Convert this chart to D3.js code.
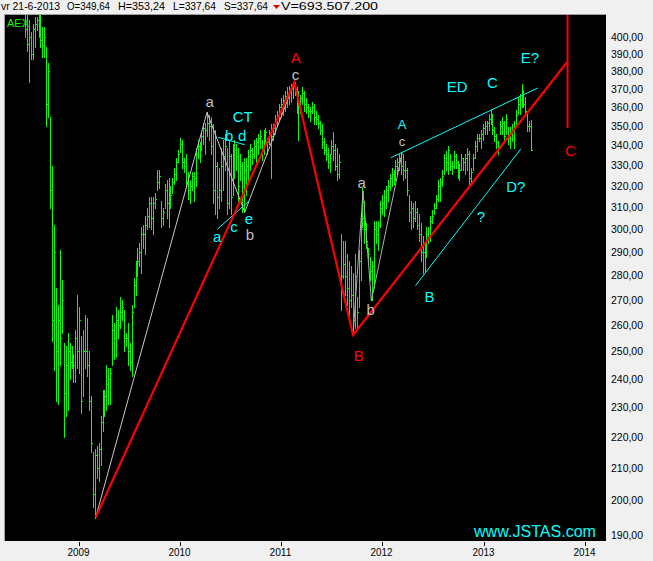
<!DOCTYPE html>
<html><head><meta charset="utf-8">
<script src="https://cdn.jsdelivr.net/npm/d3@7"></script>
<style>html,body{margin:0;padding:0;background:#f0f0f0;} svg{display:block;font-family:Arial,"Liberation Sans",sans-serif;}</style>
</head><body>
<svg id="c" width="653" height="561"></svg>
<script>
// ---- data (weekly AEX bars, first week ending 2008-06-20) ----
const firstWeek = "2008-06-20";
const highs = [414,414,410,403,408,412,412,414,414,406,406,394,385,355,330,302,275,268,291,278,
253,252,257,253,252,249,258,272,267,256,258,264,263,250,234,215,216,217,218,227,
236,236,245,244,244,264,261,267,266,271,270,266,257,261,253,268,279,286,292,294,
301,302,306,310,315,315,315,317,328,328,313,310,321,323,324,320,324,329,334,338,
344,343,334,336,327,323,327,327,339,343,342,347,352,352,357.5,356,355,351,348,332,
329,339,343,346,339,343,336,341,343,341,339,336,332,334,334,338,341,339,343,344,
346,348,343,348,349,344,348,351,351,356,358,362,365,367,369,371,372,373,374,374,
371,369,367,371,369,365,362,360,363,362,358,356,353,351,344,341,339,336,343,347,
341,339,336,298,295,295,289,286,284,281,289,271,291,307,319,313,303,292,288,286,
304,304,304,313,316,318,320,323,326,329,328,333,334,336,337,336,332.5,329,316,313,
312,313,310,307,303,297,295,301,301,306,309,312,316,323,324,328,336,337.5,340,336,
332.5,337.5,336,332.5,331,336,334,336,339,337.5,329,336,342.6,346,346,348,351,353,353,356.6,
358.4,356.6,349.6,346,342.6,353,354.8,353,356.6,349.6,349.6,351,353,358.4,365.5,367.4,372.9,369.3,365.5,356.6,
353,353.24];
const lows = [400,392,374,387,387,394,404,400,394,388,388,350,355,310,254,243,232,231,245,257,
220,227,229,240,244,239,239,244,242,228,234,244,241,229,215,198,195,207,206,211,
222,227,229,231,231,245,247,248,255,259,262,250,252,245,243,241,267,272,280,284,
281,292,289,300,301,300,298,310,318,319,301,302,310,305,301,310,317,321,323,332,
337,329,327,320,314,312,318,313,320,334,332,338,341,336,345,343,336,312,307,305,
310,313,318,328,307,310,307,316,324,328,313,323,308,308,316,321,328,331,334,331,
336,339,333,336,341,336,341,324,343,346,350,353,355,356,358,360,362,363,365,367,
357,343,357,362,358,357,355,353,357,351,351,349,346,339,336,333,329,327,336,333,
328,323,324,266,279,272,268,264,267,257,259,259,267,278,301,294,292,287,278,270,
275,294,291,301,307,306,310,313,318,320,321,323,326,328,326,323,324,316,304,300,
301,304,300,295,286,281,282,288,294,295,303,307,310,313,313,320,326,328,326,328,
326,329,329,324,323,328,328,326,328,321,321,328,334,337.5,342.6,339,343,346,346,348,
351,346,342.6,339,336,346,346,342.6,346,341,339,342.6,339,351,356.6,356.6,360,360,356.6,347.8,
347.8,337.64];
const closes = [405,396,400,390,405,408,410,412,398,395,400,362,380,318,262,290,250,262,255,270,
235,245,250,246,248,245,255,250,262,232,250,250,245,232,218,202,214,210,216,225,
230,234,238,240,242,258,255,262,260,265,267,255,255,250,246,265,276,284,286,290,
298,298,302,306,312,305,312,314,322,325,305,308,318,312,320,316,322,326,332,336,
341,332,330,322,318,320,325,324,336,340,338,345,349,348,352,350,340,318,330,315,
318,330,335,340,312,335,315,332,338,335,320,330,315,328,330,335,338,336,340,342,
344,345,340,346,347,342,346,345,349,354,356,360,362,364,366,368,369,370,372,370,
360,362,365,368,362,360,358,358,360,355,354,352,348,342,338,336,332,334,340,338,
330,326,332,280,285,280,275,270,272,262,280,265,286,300,305,300,295,289,282,284,
300,298,302,310,312,315,318,320,324,326,325,330,332,334,330,328,328,318,308,310,
305,308,302,298,290,290,292,298,297,304,306,310,314,320,322,325,334,332,338,330,
330,335,332,326,328,334,332,334,336,324,327,334,340,344,344,346,349,350,352,354,
352,348,345,342,340,350,352,345,354,344,346,348,350,356,362,364,368,362,358,350,
350,337.64];
const yTicks = [190,200,210,220,230,240,250,260,270,280,290,300,310,320,330,340,350,360,370,380,390,400];
const yearTicks = [2009,2010,2011,2012,2013,2014];
// wave annotations (date, index level)
const redWave = [["2009-03-02",195],["2011-02-17",373.8],["2011-09-17",256.2],["2013-10-28",385.2]];
const redVertical = [["2013-10-30",425],["2013-10-30",349.2]];
const grayWave1 = [["2009-03-02",195],["2010-04-08",357.4],["2010-08-22",307.8],["2011-02-17",373.8]];
const grayWave2 = [["2011-09-17",256.2],["2011-10-23",317.8],["2011-11-22",269.6],["2012-03-13",337.0]];
const cyanLines = [
  [["2012-02-01",334.0],["2013-07-14",370.6]],
  [["2012-04-29",275.8],["2013-05-14",338.3]],
  [["2010-05-18",344.3],["2010-08-22",340.5]],
  [["2010-05-15",300.1],["2010-09-07",313.1]]
];
// [text, colour, date, level, font size]
const waveLabels = [
  ["A","red","2011-02-22",388.0,15],["c","gray","2011-02-21",377.6,15],
  ["B","red","2011-10-08",248.4,15],["C","red","2013-11-09",337.3,15],
  ["a","gray","2010-04-18",362.4,15],["CT","cyan","2010-08-15",354.9,15],
  ["b","cyan","2010-06-27",344.5,15],["d","cyan","2010-08-13",344.5,15],
  ["a","cyan","2010-05-15",296.2,15],["c","cyan","2010-07-14",300.6,15],
  ["e","cyan","2010-09-06",304.3,15],["b","gray","2010-09-10",297.1,15],
  ["a","gray","2011-10-18",321.0,15],["b","gray","2011-11-20",265.5,15],
  ["A","cyan","2012-03-12",351.0,13],["c","gray","2012-03-12",341.8,13],
  ["ED","cyan","2012-09-27",371.2,15],["C","cyan","2013-02-01",373.4,15],
  ["E?","cyan","2013-06-16",388.0,15],["D?","cyan","2013-04-26",320.0,15],
  ["?","cyan","2012-12-21",305.6,15],["B","cyan","2012-06-19",271.3,15]
];
const header = [["vr 21-6-2013",1,59],["O=349,64",67,43],["H=353,24",118,47],["L=337,64",173,43],["S=337,64",224,44],["V=693.507.200",281,97]];

// ---- drawing ----
const colors = {red:"#ff0000", gray:"#c0c0c0", cyan:"#00ffff"};
const parse = d3.timeParse("%Y-%m-%d");
const svg = d3.select("#c");
const L = 5, T = 15, R = 606, B = 541;
const x = d3.scaleTime().domain([new Date(2009,0,1), new Date(2014,0,1)]).range([79, 585]);
const y = d3.scaleLog().domain([190, 400]).range([535, 37]);

svg.append("rect").attr("width",653).attr("height",561).attr("fill","#f0f0f0");
svg.append("rect").attr("x",L).attr("y",T).attr("width",R-L).attr("height",B-T).attr("fill","#000");
svg.append("line").attr("x1",4.5).attr("x2",4.5).attr("y1",14).attr("y2",B).attr("stroke","#a0a0a0");
svg.append("line").attr("x1",4).attr("x2",R).attr("y1",14.5).attr("y2",14.5).attr("stroke","#a0a0a0");

svg.append("clipPath").attr("id","clip").append("rect").attr("x",L).attr("y",T).attr("width",R-L).attr("height",B-T);
const plot = svg.append("g").attr("clip-path","url(#clip)");

// AEX label
plot.append("text").attr("x",7).attr("y",27).attr("fill","#00ff00").attr("font-size",11).text("AEX");

// bars
const start = parse(firstWeek);
const bars = highs.map((h,i)=>({d:d3.timeDay.offset(start,7*i),h,l:lows[i],c:closes[i]}));
const bg = plot.append("g").attr("stroke","#00ff00").attr("shape-rendering","crispEdges");
bars.forEach(b=>{
  const px = Math.round(x(b.d)) + 0.5;
  bg.append("line").attr("x1",px).attr("x2",px).attr("y1",Math.round(y(b.h))).attr("y2",Math.round(y(b.l))+1);
  const cy = Math.round(y(b.c)) + 0.5;
  bg.append("line").attr("x1",px).attr("x2",px+1.5).attr("y1",cy).attr("y2",cy);
});

const line = d3.line().x(p=>x(parse(p[0]))).y(p=>y(p[1]));
plot.append("path").attr("d",line(grayWave1)).attr("fill","none").attr("stroke","#c8c8c8").attr("stroke-width",1);
plot.append("path").attr("d",line(grayWave2)).attr("fill","none").attr("stroke","#b0b0b0").attr("stroke-width",1);
cyanLines.forEach(cl=>plot.append("path").attr("d",line(cl)).attr("fill","none").attr("stroke","#00ffff").attr("stroke-width",1));
plot.append("path").attr("d",line(redWave)).attr("fill","none").attr("stroke","#ff0000").attr("stroke-width",2.2);
plot.append("path").attr("d",line(redVertical)).attr("fill","none").attr("stroke","#ff0000").attr("stroke-width",2);

waveLabels.forEach(([t,c,d,v,fs])=>{
  plot.append("text").attr("x",x(parse(d))).attr("y",y(v))
    .attr("dy", /^[a-z]+$/.test(t) ? "0.27em" : "0.36em")
    .attr("text-anchor","middle").attr("font-size",fs).attr("fill",colors[c]).text(t);
});

plot.append("text").attr("x",474).attr("y",537).attr("font-size",16).attr("fill","#00ffff").attr("textLength",122).attr("lengthAdjust","spacingAndGlyphs").text("www.JSTAS.com");

// y axis labels
const fmt = v => v.toFixed(2).replace(".",",");
svg.append("g").selectAll("text").data(yTicks).join("text")
  .attr("x",611).attr("y",d=>y(d)).attr("dy","0.36em").attr("font-size",10.5).attr("fill","#000")
  .attr("textLength",32).attr("lengthAdjust","spacingAndGlyphs").text(fmt);

// x axis
const xg = svg.append("g");
yearTicks.forEach(yr=>{
  const px = Math.round(x(new Date(yr,0,1)))+0.5;
  xg.append("line").attr("x1",px).attr("x2",px).attr("y1",B+1).attr("y2",B+5).attr("stroke","#000");
  xg.append("text").attr("x",px-1).attr("y",556).attr("text-anchor","middle").attr("font-size",10.5)
    .attr("textLength",22).attr("lengthAdjust","spacingAndGlyphs").text(yr);
});

// header
header.forEach(([t,px,w])=>svg.append("text").attr("x",px).attr("y",10).attr("font-size",10.5).attr("fill","#000")
  .attr("textLength",w).attr("lengthAdjust","spacingAndGlyphs").text(t));
svg.append("path").attr("d","M273,5 L280,5 L276.5,9 Z").attr("fill","#e00000");
</script>
</body></html>
